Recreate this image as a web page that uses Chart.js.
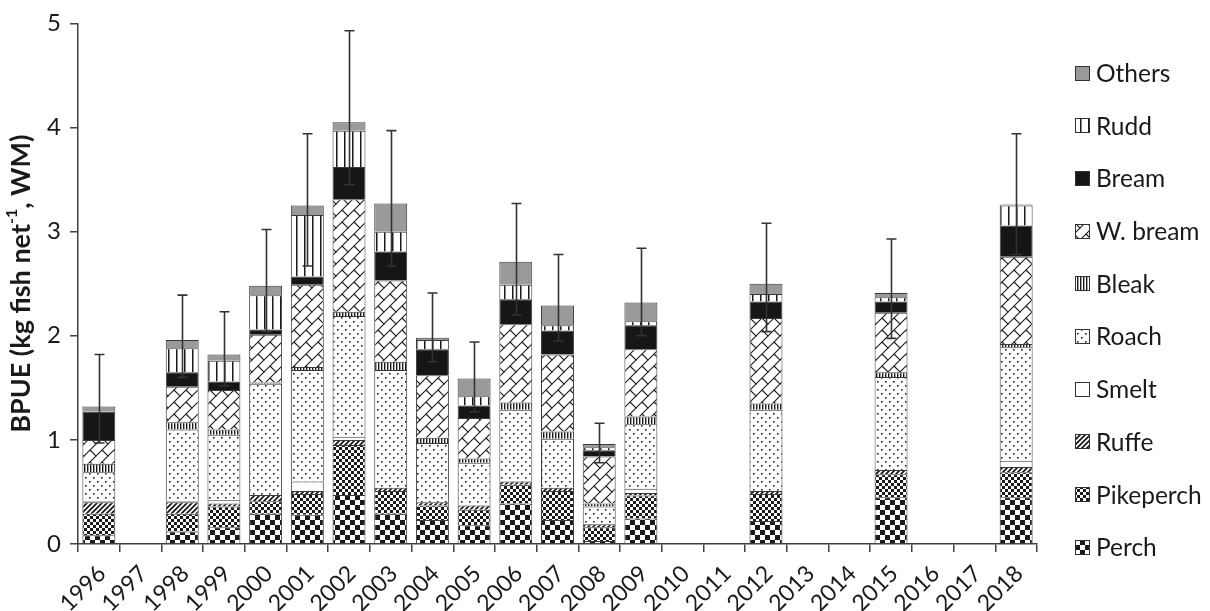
<!DOCTYPE html>
<html>
<head>
<meta charset="utf-8">
<script src="https://cdn.jsdelivr.net/npm/chart.js@4.4.1/dist/chart.umd.min.js"></script>
<style>
  html, body { margin: 0; padding: 0; background: #fff; }
  #chart { display: block; }
</style>
</head>
<body>
<canvas id="chart" width="1210" height="611"></canvas>
<script>
// BPUE per year, stacked by species (bottom -> top)
const N = null;
const years = ['1996', '1997', '1998', '1999', '2000', '2001', '2002', '2003', '2004', '2005', '2006',
  '2007', '2008', '2009', '2010', '2011', '2012', '2013', '2014', '2015', '2016', '2017', '2018'];

const species = ['Perch', 'Pikeperch', 'Ruffe', 'Smelt', 'Roach', 'Bleak', 'W. bream', 'Bream', 'Rudd', 'Others'];

const perch     = [0.085, N, 0.12, 0.16, 0.29, 0.28, 0.47, 0.29, 0.23, 0.18, 0.39, 0.23, 0.03, 0.245, N, N, 0.22, N, N, 0.45, N, N, 0.45];
const pikeperch = [0.205, N, 0.17, 0.20, 0.12, 0.20, 0.48, 0.22, 0.14, 0.15, 0.18, 0.28, 0.13, 0.22, N, N, 0.26, N, N, 0.22, N, N, 0.24];
const ruffe     = [0.11, N, 0.11, 0.03, 0.06, 0.03, 0.05, 0.03, 0.03, 0.04, 0.03, 0.03, 0.03, 0.025, N, N, 0.03, N, N, 0.04, N, N, 0.05];
const smelt     = [0.01, N, 0.01, 0.03, 0, 0.09, 0.03, 0, 0, 0, 0, 0, 0, 0.04, N, N, 0, N, N, 0, N, N, 0.06];
const roach     = [0.28, N, 0.69, 0.63, 1.07, 1.07, 1.16, 1.13, 0.57, 0.41, 0.69, 0.47, 0.17, 0.62, N, N, 0.78, N, N, 0.895, N, N, 1.09];
const bleak     = [0.08, N, 0.07, 0.05, 0.01, 0.03, 0.04, 0.08, 0.05, 0.04, 0.07, 0.07, 0.03, 0.075, N, N, 0.06, N, N, 0.045, N, N, 0.03];
const wbream    = [0.23, N, 0.34, 0.38, 0.46, 0.79, 1.08, 0.78, 0.60, 0.39, 0.75, 0.74, 0.45, 0.645, N, N, 0.82, N, N, 0.57, N, N, 0.84];
const bream     = [0.27, N, 0.14, 0.08, 0.05, 0.08, 0.31, 0.28, 0.25, 0.12, 0.24, 0.23, 0.06, 0.23, N, N, 0.16, N, N, 0.11, N, N, 0.30];
const rudd      = [0, N, 0.23, 0.20, 0.33, 0.59, 0.35, 0.19, 0.09, 0.09, 0.14, 0.05, 0.03, 0.04, N, N, 0.07, N, N, 0.04, N, N, 0.19];
const others    = [0.05, N, 0.08, 0.06, 0.09, 0.09, 0.08, 0.27, 0.02, 0.17, 0.22, 0.19, 0.03, 0.18, N, N, 0.10, N, N, 0.04, N, N, 0.01];

// error bar ends (absolute values on the y axis)
const errHigh = [1.82, N, 2.39, 2.23, 3.02, 3.94, 4.93, 3.97, 2.41, 1.94, 3.27, 2.78, 1.16, 2.84, N, N, 3.08, N, N, 2.93, N, N, 3.94];
const errLow  = [0.97, N, 1.60, 1.52, 2.04, 2.67, 3.45, 2.67, 1.75, 1.27, 2.20, 1.95, 0.78, 2.00, N, N, 2.04, N, N, 1.975, N, N, 2.78];

const yTicks = [0, 1, 2, 3, 4, 5];

const seriesValues = [perch, pikeperch, ruffe, smelt, roach, bleak, wbream, bream, rudd, others];

// ---- fill patterns (black & white print style) ----
const makeTile = (w, h, draw) => {
  const c = document.createElement('canvas');
  c.width = w; c.height = h;
  const g = c.getContext('2d');
  g.fillStyle = '#fff';
  g.fillRect(0, 0, w, h);
  draw(g, w, h);
  return document.getElementById('chart').getContext('2d').createPattern(c, 'repeat');
};

const INK = '#1a1a1a';

const patterns = [
  // Perch: large checker
  makeTile(10, 10, (g) => { g.fillStyle = INK; g.fillRect(0, 0, 5, 5); g.fillRect(5, 5, 5, 5); }),
  // Pikeperch: small checker
  makeTile(6, 6, (g) => { g.fillStyle = INK; g.fillRect(0, 0, 3, 3); g.fillRect(3, 3, 3, 3); }),
  // Ruffe: dense upward diagonal
  makeTile(5, 5, (g, w, h) => {
    g.strokeStyle = INK; g.lineWidth = 1.8;
    g.beginPath();
    g.moveTo(-1, h + 1); g.lineTo(w + 1, -1);
    g.moveTo(-1 - w, h + 1); g.lineTo(1, -1);
    g.moveTo(w - 1, h + 1); g.lineTo(2 * w + 1, -1);
    g.stroke();
  }),
  // Smelt: plain white
  '#ffffff',
  // Roach: sparse dots
  makeTile(8, 8, (g) => { g.fillStyle = '#222'; g.fillRect(1, 1, 1.6, 1.6); g.fillRect(5, 5, 1.6, 1.6); }),
  // Bleak: narrow vertical lines
  makeTile(3, 4, (g, w, h) => { g.fillStyle = INK; g.fillRect(0, 0, 1.4, h); }),
  // W. bream: diagonal brick
  makeTile(12, 12, (g, w, h) => {
    g.strokeStyle = INK; g.lineWidth = 1.1;
    g.beginPath();
    g.moveTo(-1, h + 1); g.lineTo(w + 1, -1);
    g.moveTo(w / 2, h / 2); g.lineTo(w + 1, h + 1);
    g.moveTo(-1, -1); g.lineTo(0.5, 0.5);
    g.stroke();
  }),
  // Bream: solid
  '#161616',
  // Rudd: wide vertical lines
  makeTile(8, 4, (g, w, h) => { g.fillStyle = INK; g.fillRect(0, 0, 1.5, h); }),
  // Others: grey
  '#9a9a9a'
];

// ---- plugins ----
const errorBars = {
  id: 'errorBars',
  afterDatasetsDraw(chart) {
    const { ctx, scales: { x, y } } = chart;
    ctx.save();
    ctx.strokeStyle = '#333';
    ctx.lineWidth = 1.6;
    errHigh.forEach((hi, i) => {
      if (hi === null) return;
      const px = Math.round(x.getPixelForValue(i)) + 0.5;
      const yHi = y.getPixelForValue(hi);
      const yLo = y.getPixelForValue(errLow[i]);
      ctx.beginPath();
      ctx.moveTo(px, yHi); ctx.lineTo(px, yLo);
      ctx.moveTo(px - 5, yHi); ctx.lineTo(px + 5, yHi);
      ctx.moveTo(px - 5, yLo); ctx.lineTo(px + 5, yLo);
      ctx.stroke();
    });
    ctx.restore();
  }
};

const FONT = 'Lato, "Open Sans", sans-serif';

const sideLegend = {
  id: 'sideLegend',
  afterDraw(chart) {
    const { ctx } = chart;
    ctx.save();
    ctx.font = `24.5px ${FONT}`;
    ctx.textBaseline = 'middle';
    const order = species.map((s, i) => i).reverse();
    order.forEach((idx, row) => {
      const cy = 73 + row * 52.7;
      const bx = 1075, by = Math.round(cy - 7.5);
      ctx.fillStyle = patterns[idx];
      ctx.fillRect(bx, by, 15, 15);
      ctx.strokeStyle = '#333';
      ctx.lineWidth = 1;
      ctx.strokeRect(bx + 0.5, by + 0.5, 14, 14);
      ctx.fillStyle = '#1a1a1a';
      ctx.fillText(species[idx], 1096, cy + 1);
    });
    ctx.restore();
  }
};

const yTitle = {
  id: 'yTitle',
  afterDraw(chart) {
    const { ctx, chartArea } = chart;
    const main1 = 'BPUE (kg fish net';
    const sup = '-1';
    const main2 = ', WM)';
    const big = `bold 27px ${FONT}`;
    const small = `bold 16px ${FONT}`;
    ctx.save();
    ctx.fillStyle = '#1a1a1a';
    ctx.textBaseline = 'middle';
    ctx.font = big;
    const w1 = ctx.measureText(main1).width;
    const w3 = ctx.measureText(main2).width;
    ctx.font = small;
    const w2 = ctx.measureText(sup).width;
    const total = w1 + w2 + w3;
    ctx.translate(21, (chartArea.top + chartArea.bottom) / 2);
    ctx.rotate(-Math.PI / 2);
    let xx = -total / 2;
    ctx.font = big;
    ctx.fillText(main1, xx, 0); xx += w1;
    ctx.font = small;
    ctx.fillText(sup, xx, -9); xx += w2;
    ctx.font = big;
    ctx.fillText(main2, xx, 0);
    ctx.restore();
  }
};

document.addEventListener('DOMContentLoaded', () => {
  const canvas = document.getElementById('chart');
  try {
    new Chart(canvas, {
      type: 'bar',
      data: {
        labels: years,
        datasets: species.map((name, i) => ({
          label: name,
          data: seriesValues[i],
          backgroundColor: patterns[i],
          borderColor: '#3a3a3a',
          borderWidth: 1,
          barPercentage: 0.79,
          categoryPercentage: 1
        }))
      },
      options: {
        responsive: false,
        animation: false,
        events: [],
        layout: { padding: { left: 0, right: 173, top: 17, bottom: 0 } },
        plugins: { legend: { display: false }, tooltip: { enabled: false } },
        scales: {
          x: {
            stacked: true,
            grid: { offset: true, drawOnChartArea: false, tickLength: 8, color: '#404040', lineWidth: 1.5 },
            border: { color: '#404040', width: 1.5 },
            ticks: { autoSkip: false, minRotation: 45, maxRotation: 45, color: '#1a1a1a', font: { family: FONT, size: 23 }, padding: 8, labelOffset: 3 },
            afterFit: (s) => { s.height = 67; }
          },
          y: {
            stacked: true,
            min: yTicks[0],
            max: yTicks[yTicks.length - 1],
            afterBuildTicks: (s) => { s.ticks = yTicks.map(v => ({ value: v })); },
            grid: { drawOnChartArea: false, tickLength: 8, color: '#404040', lineWidth: 1.5 },
            border: { color: '#404040', width: 1.5 },
            ticks: { color: '#1a1a1a', font: { family: FONT, size: 24 }, padding: 9 },
            afterFit: (s) => { s.width = 78; }
          }
        }
      },
      plugins: [errorBars, sideLegend, yTitle]
    });
  } catch (error) {
    console.error('index.html: Error rendering chart:', error);
  }
});
</script>
</body>
</html>
